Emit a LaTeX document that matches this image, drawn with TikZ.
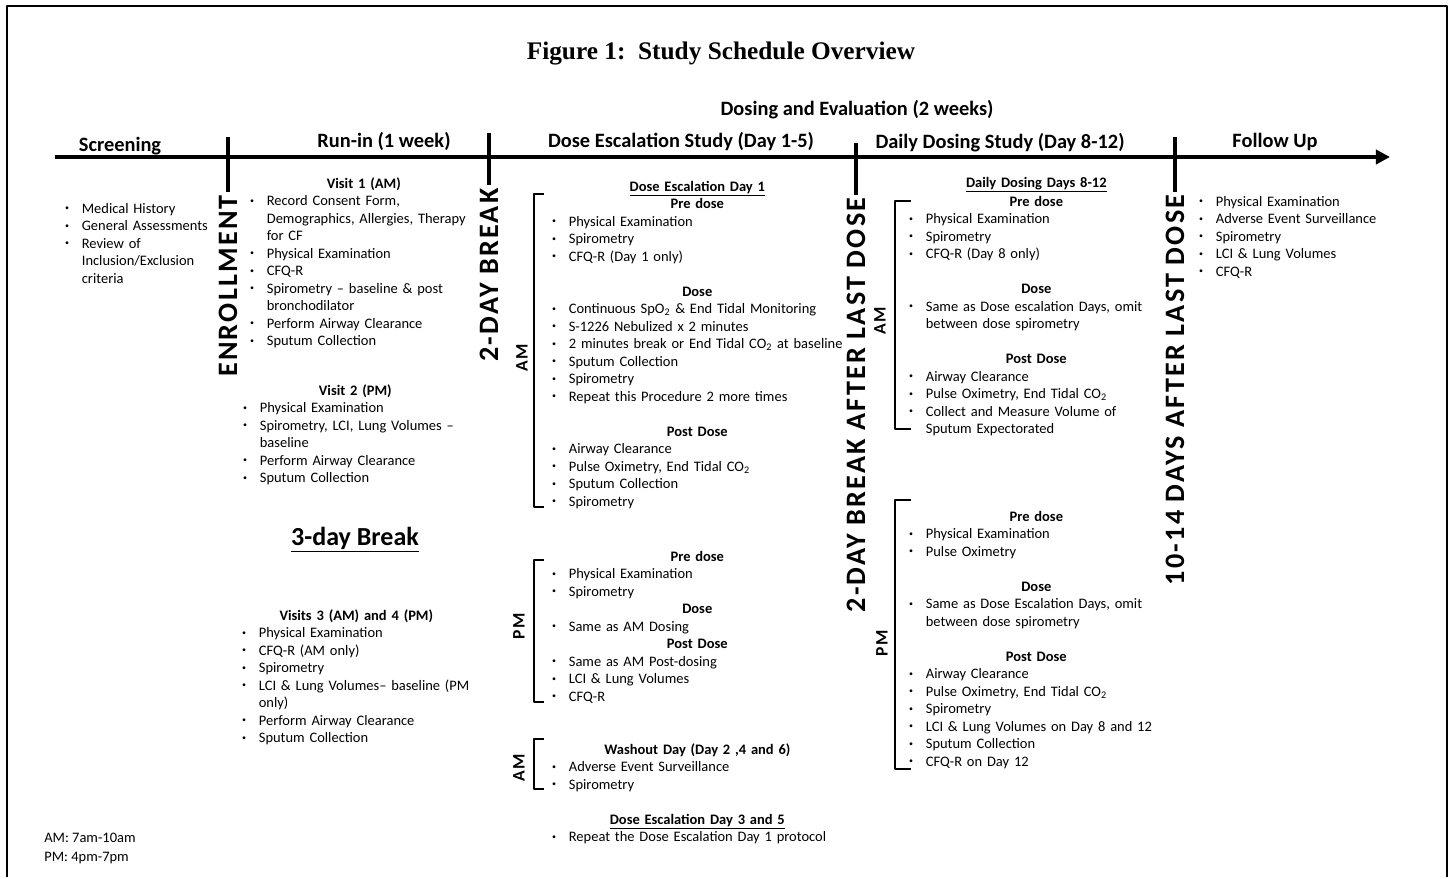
\documentclass[tikz,border=0pt]{standalone}
\usepackage{graphicx}
\usepackage{fontspec}
\setmainfont{Carlito}
\newfontfamily\titlefont{Liberation Serif}
\newfontfamily\vfont[LetterSpace=8]{Carlito}
\usetikzlibrary{arrows.meta}

\newlength\bind
\setlength\bind{12.5pt}
\newcommand\dotb{\hspace{0.6pt}\raisebox{0.35ex}{\scalebox{0.55}{\textbullet}}}
\newcommand\bu[1]{\par\hangindent=\bind\hangafter=1\noindent\makebox[\bind][l]{\dotb}\strut#1\par}
\newcommand\hd[1]{\par{\centering\bfseries\strut#1\par}}
\newcommand\uhd[1]{\par{\centering\bfseries\strut\underline{#1}\par}}
\newcommand\gap{\par\vspace{\baselineskip}}

\begin{document}
\begin{tikzpicture}[x=0.025cm,y=-0.025cm,line join=round,
	txt/.style={inner sep=0pt,anchor=north west,yshift=2.5pt,align=left,font=\fontsize{10.3}{12.45}\selectfont},
	hdr/.style={anchor=base,inner sep=0pt,font=\fontsize{14.5}{17}\selectfont\bfseries},
	vlab/.style={rotate=90,inner sep=2pt,font=\vfont\fontsize{20}{24}\selectfont\bfseries},
	slab/.style={rotate=90,inner sep=0pt,font=\vfont\fontsize{12.5}{15}\selectfont\bfseries},
	tick/.style={line width=2.4pt},
	brkt/.style={line width=2pt}]
		%==Khung
		\def\lw{2pt}
		%==============
		\useasboundingbox (0,0) rectangle (1453,879);
		\draw[line width=\lw] (7,877)--(7,6)--(1447,6)--(1447,877);
		\node[anchor=base,inner sep=0pt,font=\titlefont\fontsize{18}{22}\selectfont\bfseries] (ttl) at (721,60) {Figure 1:\ \ Study Schedule Overview};
		\node[hdr] (dose) at (857,116) {Dosing and Evaluation (2 weeks)};
		\foreach \n/\x/\y/\t in {scrh/120/152/Screening,runh/384/148/Run-in (1 week),desh/681/148/Dose Escalation Study (Day 1-5),ddsh/1000/149/Daily Dosing Study (Day 8-12),fuph/1275/148/Follow Up}
		\node[hdr] (\n) at (\x,\y) {\t};
		%==Trục thời gian
		\draw[line width=2.6pt,-{Triangle[length=10pt,width=10pt]}] (55,157)coordinate(T0)--(1390,157)coordinate(T1);
		\foreach \n/\x/\a/\c/\t in {enr/228/137/286/ENROLLMENT,brkA/489/133/275/2-DAY BREAK,brkB/856/143/405/2-DAY BREAK AFTER LAST DOSE,fol/1175/137/390/10-14 DAYS AFTER LAST DOSE}{
			\node[vlab] (\n) at (\x,\c) {\t};
			\draw[tick] (\x,\a)coordinate(top\n)--(\n.east);
		}
		%==Ngoặc AM/PM
		\foreach \n/\x/\a/\b/\s/\lx/\ly/\t in {bA/534/194/507/10/522/358/AM,bB/534/560/702/10/519/626/PM,bC/534/739/789/10/519/768/AM,bD/895/201/429/16/880/321/AM,bE/895/500/769/16/882/643/PM}{
			\draw[brkt] (\x+\s,\a)--(\x,\a)--(\x,\b)--(\x+\s,\b);
			\node[slab] (\n) at (\lx,\ly) {\t};
		}
		%==Screening, Run-in
		\node[txt,text width=4cm] (scr) at (64,199) {\bu{Medical History}\bu{General Assessments}\bu{Review of\newline Inclusion/Exclusion\newline criteria}};
		\node[txt,text width=5.725cm] (vis1) at (249,174) {\hd{Visit 1 (AM)}\bu{Record Consent Form,\newline Demographics, Allergies, Therapy\newline for CF}\bu{Physical Examination}\bu{CFQ-R}\bu{Spirometry – baseline \& post\newline bronchodilator}\bu{Perform Airway Clearance}\bu{Sputum Collection}};
		\node[txt,text width=5.65cm] (vis2) at (242,381) {\hd{Visit 2 (PM)}\bu{Physical Examination}\bu{Spirometry, LCI, Lung Volumes –\newline baseline}\bu{Perform Airway Clearance}\bu{Sputum Collection}};
		\node[anchor=base,inner sep=0pt,font=\fontsize{18.5}{22}\selectfont\bfseries] (brk) at (355,545) {\underline{3-day Break}};
		\node[txt,text width=5.75cm] (vis3) at (241,606) {\hd{Visits 3 (AM) and 4 (PM)}\bu{Physical Examination}\bu{CFQ-R (AM only)}\bu{Spirometry}\bu{LCI \& Lung Volumes– baseline (PM\newline only)}\bu{Perform Airway Clearance}\bu{Sputum Collection}};
		\node[anchor=base west,inner sep=0pt,font=\fontsize{10.3}{12.45}\selectfont] (lgdA) at (44,842) {AM: 7am-10am};
		\node[anchor=base west,inner sep=0pt,font=\fontsize{10.3}{12.45}\selectfont] (lgdB) at (44,861) {PM: 4pm-7pm};
		%==Dose Escalation
		\node[txt,text width=7.3cm] (day1) at (551,177) {\uhd{Dose Escalation Day 1}\hd{Pre dose}\bu{Physical Examination}\bu{Spirometry}\bu{CFQ-R (Day 1 only)}\gap\hd{Dose}\bu{Continuous SpO\textsubscript{2} \& End Tidal Monitoring}\bu{S-1226 Nebulized x 2 minutes}\bu{2 minutes break or End Tidal CO\textsubscript{2} at baseline}\bu{Sputum Collection}\bu{Spirometry}\bu{Repeat this Procedure 2 more times}\gap\hd{Post Dose}\bu{Airway Clearance}\bu{Pulse Oximetry, End Tidal CO\textsubscript{2}}\bu{Sputum Collection}\bu{Spirometry}};
		\node[txt,text width=7.3cm] (pmd) at (551,547) {\hd{Pre dose}\bu{Physical Examination}\bu{Spirometry}\hd{Dose}\bu{Same as AM Dosing}\hd{Post Dose}\bu{Same as AM Post-dosing}\bu{LCI \& Lung Volumes}\bu{CFQ-R}};
		\node[txt,text width=7.3cm] (wash) at (551,740) {\hd{Washout Day (Day 2 ,4 and 6)}\bu{Adverse Event Surveillance}\bu{Spirometry}};
		\node[txt,text width=7.3cm] (day35) at (551,810) {\uhd{Dose Escalation Day 3 and 5}\bu{Repeat the Dose Escalation Day 1 protocol}};
		%==Daily Dosing, Follow Up
		\node[txt,text width=6.4cm] (ddd) at (908,173) {\uhd{Daily Dosing Days 8-12}\hd{Pre dose}\bu{Physical Examination}\bu{Spirometry}\bu{CFQ-R (Day 8 only)}\gap\hd{Dose}\bu{Same as Dose escalation Days, omit\newline between dose spirometry}\gap\hd{Post Dose}\bu{Airway Clearance}\bu{Pulse Oximetry, End Tidal CO\textsubscript{2}}\bu{Collect and Measure Volume of\newline Sputum Expectorated}};
		\node[txt,text width=6.4cm] (ddp) at (908,507) {\hd{Pre dose}\bu{Physical Examination}\bu{Pulse Oximetry}\gap\hd{Dose}\bu{Same as Dose Escalation Days, omit\newline between dose spirometry}\gap\hd{Post Dose}\bu{Airway Clearance}\bu{Pulse Oximetry, End Tidal CO\textsubscript{2}}\bu{Spirometry}\bu{LCI \& Lung Volumes on Day 8 and 12}\bu{Sputum Collection}\bu{CFQ-R on Day 12}};
		\node[txt,text width=5.5cm] (fup) at (1198,192) {\bu{Physical Examination}\bu{Adverse Event Surveillance}\bu{Spirometry}\bu{LCI \& Lung Volumes}\bu{CFQ-R}};
\end{tikzpicture}
\end{document}
